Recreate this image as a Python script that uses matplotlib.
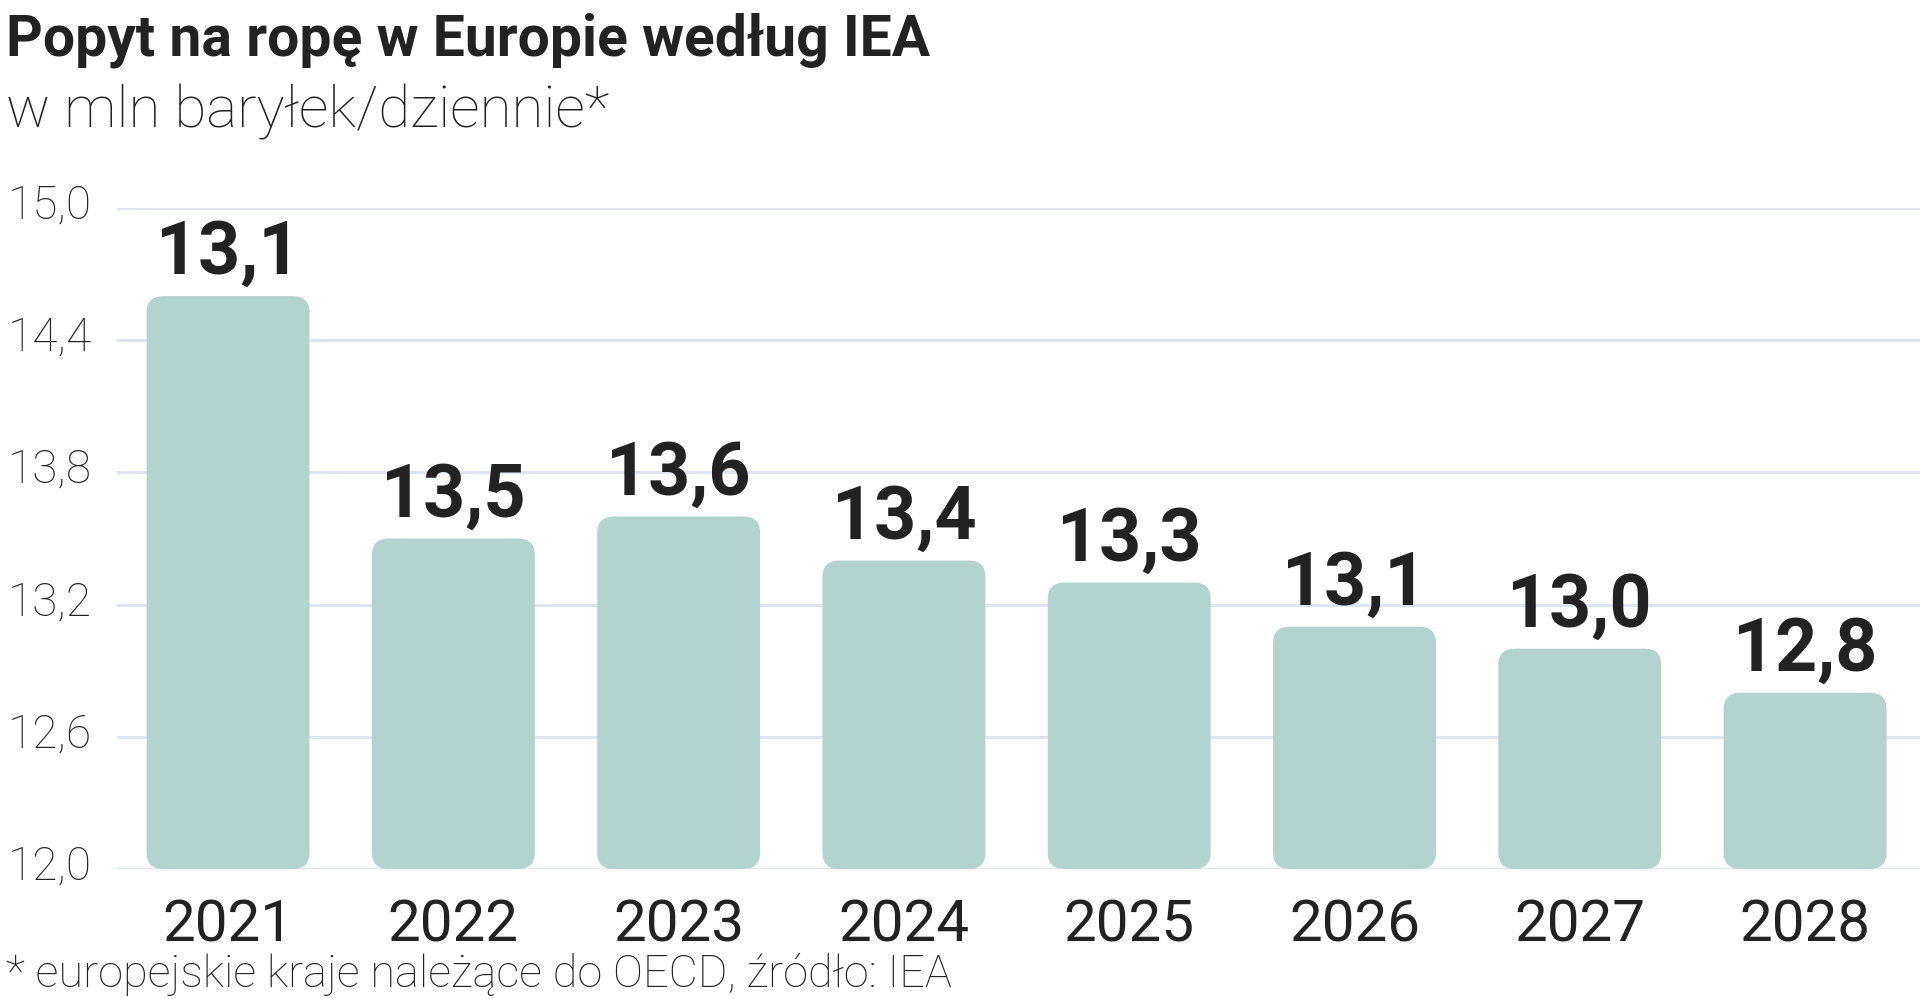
import matplotlib
matplotlib.use('Agg')
import matplotlib.pyplot as plt
import matplotlib.transforms as mtransforms
from matplotlib.patches import FancyBboxPatch

years = ['2021', '2022', '2023', '2024', '2025', '2026', '2027', '2028']
# bar heights as drawn in the source (the 2021 bar is drawn taller than its label)
bar_values = [14.6, 13.5, 13.6, 13.4, 13.3, 13.1, 13.0, 12.8]
value_labels = ['13,1', '13,5', '13,6', '13,4', '13,3', '13,1', '13,0', '12,8']
y_ticks = [12.0, 12.6, 13.2, 13.8, 14.4, 15.0]
y_tick_labels = ['12,0', '12,6', '13,2', '13,8', '14,4', '15,0']

title = 'Popyt na ropę w Europie według IEA'
subtitle = 'w mln baryłek/dziennie*'
footnote = '* europejskie kraje należące do OECD, źródło: IEA'

bar_color = '#b3d3ce'
grid_color = '#dce4ee'
text_color = '#222222'

plt.rcParams['font.family'] = ['Roboto', 'DejaVu Sans']

fig = plt.figure(figsize=(19.2, 9.99), dpi=100)
ax = fig.add_axes([117 / 1920, 1 - 869 / 999, 1 - 117 / 1920, (869 - 208) / 999])

ax.set_xlim(-0.493, 7.51)
ax.set_ylim(12.0, 15.0)

for y in y_ticks:
    ax.axhline(y, color=grid_color, lw=2, zorder=1)

width = 0.723
for i, v in enumerate(bar_values):
    patch = FancyBboxPatch((i - width / 2, 12.0), width, v - 12.0,
                           boxstyle='round,pad=0,rounding_size=0.075',
                           mutation_aspect=0.98,
                           facecolor=bar_color, edgecolor='none', zorder=2)
    ax.add_patch(patch)
    ax.text(i, v + 0.1, value_labels[i], ha='center', va='baseline',
            fontsize=53, fontweight='bold', color=text_color, clip_on=False, zorder=3)

ax.set_xticks(range(len(years)))
ax.set_xticklabels(years, fontsize=42, fontweight='normal', color=text_color)
ax.set_yticks(y_ticks)
ax.set_yticklabels(y_tick_labels, fontsize=33, fontweight='light', color=text_color)
ax.tick_params(axis='x', length=0, pad=21)
ax.tick_params(axis='y', length=0, pad=18)

# nudge y labels a little above their gridlines
shift = mtransforms.ScaledTranslation(0, 5 / 72, fig.dpi_scale_trans)
for lab in ax.get_yticklabels():
    lab.set_transform(lab.get_transform() + shift)

for s in ax.spines.values():
    s.set_visible(False)

fig.text(6 / 1920, 1 - 55 / 999, title, fontsize=41, fontweight='bold',
         color=text_color, va='baseline', ha='left')
fig.text(6 / 1920, 1 - 127 / 999, subtitle, fontsize=42, fontweight='light',
         color=text_color, va='baseline', ha='left')
fig.text(6 / 1920, 1 - 987 / 999, footnote, fontsize=32.5, fontweight='light',
         color=text_color, va='baseline', ha='left')

fig.savefig('out.png', dpi=100, facecolor='white')
